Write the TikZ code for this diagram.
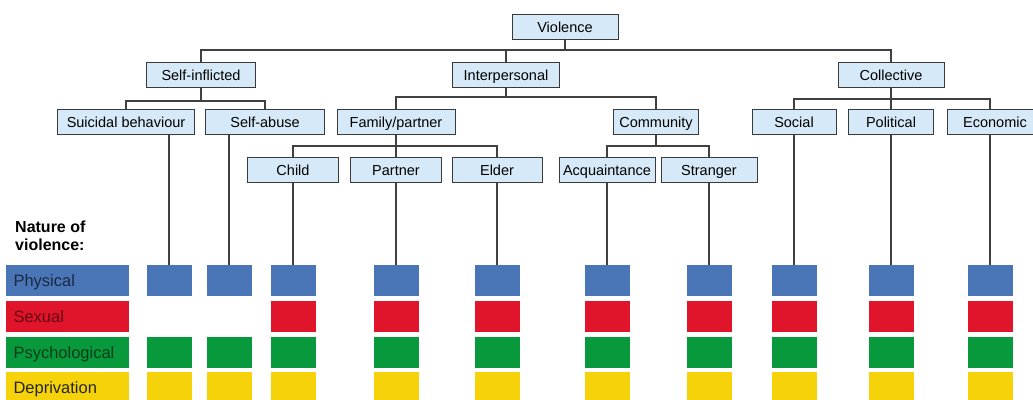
\documentclass[tikz,border=0pt]{standalone}
\usepackage{fontspec}
\setmainfont{Liberation Sans}
\usetikzlibrary{positioning}

\definecolor{boxfill}{HTML}{D6E9F8}
\definecolor{boxline}{HTML}{3A3A3A}
\definecolor{treeline}{HTML}{404040}
\definecolor{physblue}{HTML}{4A76B8}
\definecolor{sexred}{HTML}{E0142A}
\definecolor{psygreen}{HTML}{08993C}
\definecolor{depyellow}{HTML}{F5D20A}

\begin{document}
\begin{tikzpicture}[x=1pt, y=-1pt,
    every node/.style={font=\fontsize{14.5}{16}\selectfont, inner sep=0pt},
    cat/.style={draw=boxline, fill=boxfill, line width=1pt, minimum height=25pt, text height=10pt, text depth=0pt},
    link/.style={draw=treeline, line width=1.2pt},
    sq/.style={minimum width=45pt, minimum height=31pt},
    bar/.style={minimum width=123pt, minimum height=31pt, text width=108pt, align=left, text height=12pt, text depth=0pt, font=\fontsize{16.5}{18}\selectfont}]
        \useasboundingbox (0,0) rectangle (1033,399);

        % level 0 and 1
        \node (violence) [cat, minimum width=106pt] at (565,27) {Violence};
        \node (selfinf) [cat, minimum width=109pt] at (201,75) {Self-inflicted};
        \node (interp) [cat, minimum width=107pt] at (506,75) {Interpersonal};
        \node (collective) [cat, minimum width=106pt] at (891,75) {Collective};

        % level 2
        \node (suicidal) [cat, minimum width=137pt] at (126,122) {Suicidal behaviour};
        \node (selfabuse) [cat, minimum width=119pt] at (265,122) {Self-abuse};
        \node (family) [cat, minimum width=118pt] at (396,122) {Family/partner};
        \node (community) [cat, minimum width=85pt] at (656,122) {Community};
        \node (social) [cat, minimum width=84pt] at (794,122) {Social};
        \node (political) [cat, minimum width=85pt] at (891,122) {Political};
        \node (economic) [cat, minimum width=96pt] at (995,122) {Economic};

        % level 3
        \node (child) [cat, minimum width=91pt] at (293,170) {Child};
        \node (partner) [cat, minimum width=91pt] at (396,170) {Partner};
        \node (elder) [cat, minimum width=90pt] at (497,170) {Elder};
        \node (acquaint) [cat, minimum width=96pt] at (607,170) {Acquaintance};
        \node (stranger) [cat, minimum width=96pt] at (709,170) {Stranger};

        % nature of violence
        \node (nature) [anchor=north west, align=left, font=\bfseries\fontsize{16}{18}\selectfont] at (15,221) {Nature of\\violence:};
        \node (physbar) [bar, fill=physblue, text=physblue!35!black] at (67.5,280.5) {Physical};
        \node (sexbar) [bar, fill=sexred, text=sexred!45!black] at (67.5,316.5) {Sexual};
        \node (psybar) [bar, fill=psygreen, text=psygreen!40!black] at (67.5,352) {Psychological};
        \node (depbar) [bar, fill=depyellow, text=black!85] at (67.5,387.5) {Deprivation};

        \foreach \x [count=\i] in {169,229,293,396,497,607,709,794,891,990} {
            \node (phys\i) [sq, fill=physblue] at (\x,280.5) {};
            \ifnum\i>2
                \node (sex\i) [sq, fill=sexred] at (\x,316.5) {};
            \fi
            \node (psy\i) [sq, fill=psygreen] at (\x,352) {};
            \node (dep\i) [sq, fill=depyellow] at (\x,387.5) {};
        }

        % tree links
        \draw[link] (violence.south) -- (violence.south |- 0,50) -| (selfinf.north);
        \draw[link] (violence.south |- 0,50) -| (interp.north);
        \draw[link] (violence.south |- 0,50) -| (collective.north);
        \draw[link] (selfinf.south) -- (selfinf.south |- 0,101) -| (suicidal.north);
        \draw[link] (selfinf.south |- 0,101) -| (selfabuse.north);
        \draw[link] (interp.south) -- (interp.south |- 0,97) -| (family.north);
        \draw[link] (interp.south |- 0,97) -| (community.north);
        \draw[link] (collective.south) -- (collective.south |- 0,99) -| (social.north);
        \draw[link] (collective.south |- 0,99) -| (political.north);
        \draw[link] (collective.south |- 0,99) -| (economic.north -| phys10.north);
        \draw[link] (family.south) -- (family.south |- 0,146) -| (child.north);
        \draw[link] (family.south |- 0,146) -| (partner.north);
        \draw[link] (family.south |- 0,146) -| (elder.north);
        \draw[link] (community.south) -- (community.south |- 0,146) -| (acquaint.north);
        \draw[link] (community.south |- 0,146) -| (stranger.north);

        % drops to the squares
        \draw[link] (suicidal.south -| phys1.north) -- (phys1.north);
        \draw[link] (selfabuse.south -| phys2.north) -- (phys2.north);
        \draw[link] (child.south) -- (phys3.north);
        \draw[link] (partner.south) -- (phys4.north);
        \draw[link] (elder.south) -- (phys5.north);
        \draw[link] (acquaint.south) -- (phys6.north);
        \draw[link] (stranger.south) -- (phys7.north);
        \draw[link] (social.south) -- (phys8.north);
        \draw[link] (political.south) -- (phys9.north);
        \draw[link] (economic.south -| phys10.north) -- (phys10.north);
    \end{tikzpicture}
\end{document}
